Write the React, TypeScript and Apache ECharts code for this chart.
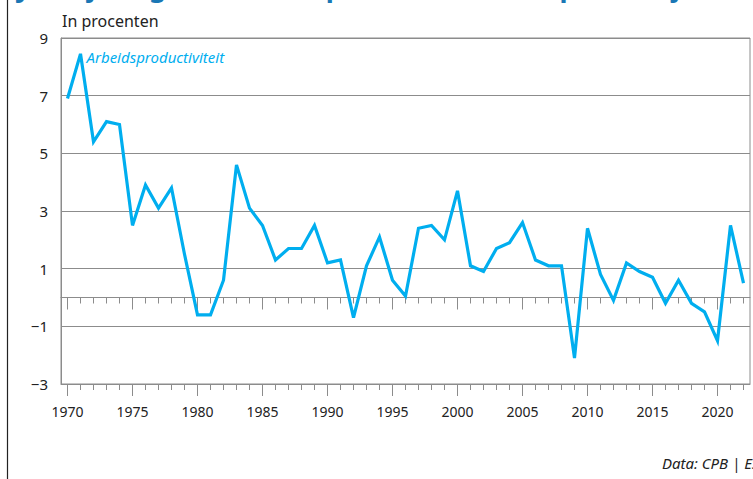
import React, { useEffect, useRef } from "react";
import * as echarts from "echarts";

const years: string[] = [];
for (let y = 1970; y <= 2022; y++) years.push(String(y));

const productivity: number[] = [
  6.9, 8.45, 5.4, 6.1, 6.0, 2.5, 3.9, 3.1, 3.8, 1.5,
  -0.6, -0.6, 0.6, 4.6, 3.1, 2.5, 1.3, 1.7, 1.7, 2.5,
  1.2, 1.3, -0.7, 1.1, 2.1, 0.6, 0.05, 2.4, 2.5, 2.0,
  3.7, 1.1, 0.9, 1.7, 1.9, 2.6, 1.3, 1.1, 1.1, -2.1,
  2.4, 0.8, -0.1, 1.2, 0.9, 0.7, -0.2, 0.6, -0.2, -0.5,
  -1.5, 2.5, 0.5,
];

const seriesName = "Arbeidsproductiviteit";
const unitLabel = "In procenten";
const sourceText = "Data: CPB | ESB";
const titleText = "Jaarlijkse groei arbeidsproductiviteit loopt sinds jaren op";

const yMin = -3;
const yMax = 9;
const yStep = 2;

const GRAY = "#8c8c8c";
const BLUE = "#00aeef";
const FONT = "Noto Sans";

export default function App() {
  const ref = useRef<HTMLDivElement>(null);
  useEffect(() => {
    if (!ref.current) return;
    const chart = echarts.init(ref.current, undefined, { renderer: "svg" });
    const major = (i: number) => i % 5 === 0;
    const baseX = {
      type: "category" as const,
      data: years,
      boundaryGap: true,
      position: "bottom" as const,
      splitLine: { show: false },
    };
    chart.setOption({
      animation: false,
      textStyle: { fontFamily: FONT },
      grid: {
        left: 61,
        right: 3,
        top: 38,
        bottom: 95,
        show: true,
        borderColor: GRAY,
        borderWidth: 1,
        containLabel: false,
      },
      xAxis: [
        {
          ...baseX,
          axisLine: { show: true, onZero: false, lineStyle: { color: GRAY, width: 1 } },
          axisTick: {
            show: true,
            interval: major,
            alignWithLabel: true,
            length: 12,
            lineStyle: { color: GRAY, width: 1 },
          },
          axisLabel: {
            show: true,
            interval: major,
            margin: 20,
            color: "#222",
            fontSize: 14,
            fontFamily: FONT,
          },
        },
        {
          ...baseX,
          axisLine: { show: false, onZero: false },
          axisTick: {
            show: true,
            interval: 0,
            alignWithLabel: true,
            length: 6,
            lineStyle: { color: GRAY, width: 1 },
          },
          axisLabel: { show: false },
        },
        {
          ...baseX,
          axisLine: { show: true, onZero: true, onZeroAxisIndex: 0, lineStyle: { color: GRAY, width: 1 } },
          axisTick: {
            show: true,
            interval: major,
            alignWithLabel: true,
            length: 12,
            lineStyle: { color: GRAY, width: 1 },
          },
          axisLabel: { show: false },
        },
        {
          ...baseX,
          axisLine: { show: false, onZero: true, onZeroAxisIndex: 0 },
          axisTick: {
            show: true,
            interval: 0,
            alignWithLabel: true,
            length: 6,
            lineStyle: { color: GRAY, width: 1 },
          },
          axisLabel: { show: false },
        },
      ],
      yAxis: {
        type: "value",
        min: yMin,
        max: yMax,
        interval: yStep,
        axisLine: { show: true, onZero: false, lineStyle: { color: GRAY, width: 1 } },
        axisTick: { show: false },
        splitLine: { show: true, lineStyle: { color: GRAY, width: 1 } },
        axisLabel: {
          margin: 13,
          color: "#222",
          fontSize: 15,
          fontFamily: FONT,
          formatter: (v: number) => (v < 0 ? "\u2212" + Math.abs(v) : String(v)),
        },
      },
      series: [
        {
          name: seriesName,
          type: "line",
          xAxisIndex: 0,
          yAxisIndex: 0,
          showSymbol: true,
          symbol: "circle",
          symbolSize: 0.1,
          itemStyle: { color: BLUE },
          lineStyle: { color: BLUE, width: 3.2, join: "miter" },
          data: productivity.map((v, i) =>
            i === 1
              ? {
                  value: v,
                  label: {
                    show: true,
                    position: "right",
                    distance: 6,
                    offset: [0, 3],
                    formatter: seriesName,
                    color: BLUE,
                    fontStyle: "italic",
                    fontSize: 15,
                    fontFamily: FONT,
                  },
                }
              : v
          ),
        },
      ],
      graphic: [
        {
          type: "line",
          shape: { x1: 7.5, y1: 0, x2: 7.5, y2: 479 },
          style: { stroke: "#222", lineWidth: 1.2 },
          silent: true,
        },
        {
          type: "text",
          left: 18,
          top: -27,
          style: {
            text: titleText,
            fill: "#1a77b5",
            font: `bold 27px "${FONT}"`,
          },
          silent: true,
        },
        {
          type: "text",
          left: 62,
          top: 13,
          style: {
            text: unitLabel,
            fill: "#222",
            font: `16px "${FONT}"`,
          },
          silent: true,
        },
        {
          type: "text",
          left: 662,
          top: 455,
          style: {
            text: sourceText,
            fill: "#222",
            font: `italic 15px "${FONT}"`,
          },
          silent: true,
        },
      ],
    });
    return () => chart.dispose();
  }, []);
  return (
    <div
      ref={ref}
      style={{ position: "fixed", left: 0, top: 0, width: 753, height: 479, background: "#fff" }}
    />
  );
}
